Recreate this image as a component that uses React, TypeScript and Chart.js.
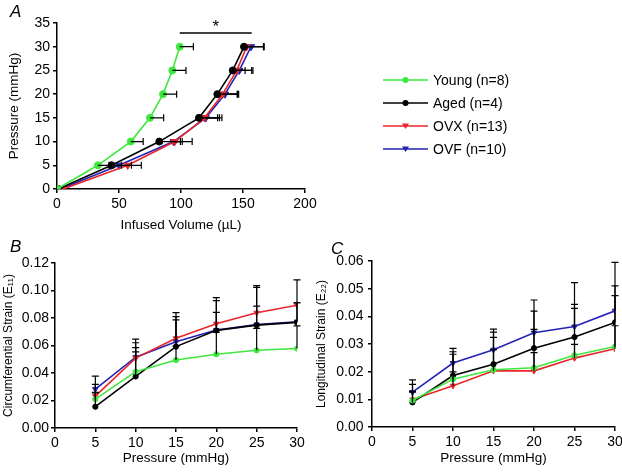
import React, { useEffect, useRef } from 'react';
import { Chart, registerables } from 'chart.js';

Chart.register(...registerables);

const FONT = '"Liberation Sans", Arial, Helvetica, sans-serif';

// ---------- data ----------
const GROUP_LABELS = ['Young (n=8)', 'Aged (n=4)', 'OVX (n=13)', 'OVF (n=10)'];
const GROUP_COLORS = ['#3de83d', '#000000', '#e8262b', '#2323b4'];
const GROUP_MARKERS = ['circle', 'circle', 'triangle', 'triangle'];

// Panel A: pressure (y) vs infused volume (x)
const PRESSURES_A = [0, 5, 10, 15, 20, 25, 30];
const YOUNG_VOL = [0, 33, 59.5, 75, 85.5, 93, 99];
const YOUNG_VOL_ERR = [0, 9, 10, 11, 11, 11, 11];
const AGED_VOL = [1, 44, 82.5, 114.5, 129.3, 141.7, 150.8];
const AGED_VOL_ERR = [0, 8, 17, 15, 16, 10, 16];
const OVX_VOL = [5, 57, 95, 119, 133.6, 145, 153];
const OVX_VOL_ERR = [0, 11, 14, 14, 12, 12, 14];
const OVF_VOL = [3, 50, 94, 120, 135.5, 147, 156.5];
const OVF_VOL_ERR = [0, 10, 7, 11, 11, 11, 10];
const A_X_TICKS = ['0', '50', '100', '150', '200'];
const A_Y_TICKS = ['0', '5', '10', '15', '20', '25', '30', '35'];
const SIG_RANGE = [99, 157];
const SIG_LEVEL = 32.9;

// Panel B: circumferential strain
const PRESSURES_BC = [5, 10, 15, 20, 25, 30];
const YOUNG_E11 = [0.021, 0.041, 0.0495, 0.0536, 0.0565, 0.0578];
const YOUNG_E11_ERR = [0.005, 0.0143, 0.01, 0.016, 0.016, 0.0165];
const AGED_E11 = [0.0155, 0.0375, 0.0592, 0.071, 0.0748, 0.0768];
const AGED_E11_ERR = [0.01, 0.021, 0.0194, 0.0131, 0.0139, 0.031];
const OVX_E11 = [0.0232, 0.0508, 0.0652, 0.0758, 0.0838, 0.0893];
const OVX_E11_ERR = [0.0086, 0.0112, 0.0187, 0.019, 0.0185, 0.0018];
const OVF_E11 = [0.0283, 0.0515, 0.0628, 0.0712, 0.0752, 0.0773];
const OVF_E11_ERR = [0.0095, 0.0132, 0.0182, 0.0214, 0.0283, 0.0138];
const B_Y_TICKS = ['0.00', '0.02', '0.04', '0.06', '0.08', '0.10', '0.12'];

// Panel C: longitudinal strain
const YOUNG_E22 = [0.0096, 0.0173, 0.0207, 0.0214, 0.0259, 0.0291];
const YOUNG_E22_ERR = [0.003, 0.009, 0.0117, 0.0055, 0.004, 0.0075];
const AGED_E22 = [0.0089, 0.0186, 0.0227, 0.0285, 0.0325, 0.0378];
const AGED_E22_ERR = [0.0065, 0.0086, 0.0116, 0.0134, 0.0118, 0.0132];
const OVX_E22 = [0.0099, 0.0149, 0.0203, 0.0203, 0.0249, 0.0283];
const OVX_E22_ERR = [0.003, 0.005, 0.0077, 0.015, 0.018, 0.0192];
const OVF_E22 = [0.0126, 0.0231, 0.0279, 0.0341, 0.0363, 0.042];
const OVF_E22_ERR = [0.0044, 0.0053, 0.0075, 0.0118, 0.0159, 0.0175];
const C_Y_TICKS = ['0.00', '0.01', '0.02', '0.03', '0.04', '0.05', '0.06'];

const BC_X_TICKS = ['0', '5', '10', '15', '20', '25', '30'];

// ---------- helpers ----------
function makeDataset(gi: number, xs: number[], ys: number[], err: number[], errAxis: 'x' | 'y', radius: number) {
  const tri = GROUP_MARKERS[gi] === 'triangle';
  return {
    label: GROUP_LABELS[gi],
    data: xs.map((x, i) => ({ x, y: ys[i] })),
    borderColor: GROUP_COLORS[gi],
    backgroundColor: GROUP_COLORS[gi],
    borderWidth: 1.6,
    pointStyle: GROUP_MARKERS[gi],
    pointRotation: tri ? 180 : 0,
    pointRadius: tri ? radius + 0.6 : radius,
    pointBorderWidth: 1,
    tension: 0,
    fill: false,
    errAxis,
    err,
  };
}

const errorBarPlugin = {
  id: 'errorBars',
  afterDatasetsDraw(chart: any) {
    const { ctx } = chart;
    const xs = chart.scales.x;
    const ys = chart.scales.y;
    ctx.save();
    ctx.strokeStyle = '#000';
    ctx.lineWidth = 1.2;
    const cap = 3.5;
    chart.data.datasets.forEach((ds: any) => {
      ds.data.forEach((pt: any, i: number) => {
        const e = ds.err[i];
        if (!e) return;
        ctx.beginPath();
        if (ds.errAxis === 'x') {
          const x0 = xs.getPixelForValue(pt.x);
          const x1 = xs.getPixelForValue(pt.x + e);
          const y = ys.getPixelForValue(pt.y);
          ctx.moveTo(x0, y);
          ctx.lineTo(x1, y);
          ctx.moveTo(x1, y - cap);
          ctx.lineTo(x1, y + cap);
        } else {
          const x = xs.getPixelForValue(pt.x);
          const y0 = ys.getPixelForValue(pt.y);
          const y1 = ys.getPixelForValue(pt.y + e);
          ctx.moveTo(x, y0);
          ctx.lineTo(x, y1);
          ctx.moveTo(x - cap, y1);
          ctx.lineTo(x + cap, y1);
        }
        ctx.stroke();
      });
    });
    ctx.restore();
  },
};

function axisCommon(tickLabels: string[]) {
  return {
    grid: { display: true, drawOnChartArea: false, drawTicks: true, tickLength: 4, color: '#000', lineWidth: 1.5 },
    border: { display: true, color: '#000', width: 1.5 },
    ticks: {
      color: '#000',
      font: { family: FONT, size: 14 },
      autoSkip: false,
      maxRotation: 0,
      callback: (_v: any, i: number) => tickLabels[i],
    },
  };
}

function fixX(height: number) {
  return (s: any) => {
    s.height = height;
    s.paddingLeft = 0;
    s.paddingRight = 0;
  };
}
function fixY(width: number) {
  return (s: any) => {
    s.width = width;
    s.paddingTop = 0;
    s.paddingBottom = 0;
  };
}

// ---------- chart configs ----------
function configA() {
  const legendPlugin = {
    id: 'legendA',
    afterDraw(chart: any) {
      const { ctx } = chart;
      const xs = chart.scales.x;
      const ys = chart.scales.y;
      ctx.save();
      // significance bar and asterisk
      const sy = ys.getPixelForValue(SIG_LEVEL);
      ctx.strokeStyle = '#000';
      ctx.lineWidth = 1.5;
      ctx.beginPath();
      ctx.moveTo(xs.getPixelForValue(SIG_RANGE[0]), sy);
      ctx.lineTo(xs.getPixelForValue(SIG_RANGE[1]), sy);
      ctx.stroke();
      ctx.fillStyle = '#000';
      ctx.font = `17px ${FONT}`;
      ctx.textAlign = 'center';
      ctx.textBaseline = 'alphabetic';
      ctx.fillText('*', xs.getPixelForValue((SIG_RANGE[0] + SIG_RANGE[1]) / 2), sy - 1);
      // legend
      const rows = [80, 103, 126, 149];
      ctx.font = `14px ${FONT}`;
      ctx.textAlign = 'left';
      ctx.textBaseline = 'middle';
      chart.data.datasets.forEach((ds: any, i: number) => {
        const y = rows[i];
        ctx.strokeStyle = ds.borderColor;
        ctx.lineWidth = 1.6;
        ctx.beginPath();
        ctx.moveTo(383, y);
        ctx.lineTo(428, y);
        ctx.stroke();
        ctx.fillStyle = ds.borderColor;
        ctx.beginPath();
        if (ds.pointStyle === 'circle') {
          ctx.arc(405.5, y, 3, 0, Math.PI * 2);
        } else {
          ctx.moveTo(402, y - 2.5);
          ctx.lineTo(409, y - 2.5);
          ctx.lineTo(405.5, y + 3);
          ctx.closePath();
        }
        ctx.fill();
        ctx.fillStyle = '#000';
        ctx.fillText(ds.label, 433, y + 1);
      });
      ctx.restore();
    },
  };
  return {
    type: 'line',
    data: {
      datasets: [
        makeDataset(0, YOUNG_VOL, PRESSURES_A, YOUNG_VOL_ERR, 'x', 3.5),
        makeDataset(1, AGED_VOL, PRESSURES_A, AGED_VOL_ERR, 'x', 3.5),
        makeDataset(2, OVX_VOL, PRESSURES_A, OVX_VOL_ERR, 'x', 3.5),
        makeDataset(3, OVF_VOL, PRESSURES_A, OVF_VOL_ERR, 'x', 3.5),
      ],
    },
    options: {
      animation: false,
      responsive: false,
      events: [],
      layout: { autoPadding: false, padding: { left: 0, top: 23, right: 317, bottom: 0 } },
      plugins: { legend: { display: false }, tooltip: { enabled: false } },
      scales: {
        x: {
          type: 'linear',
          min: 0,
          max: 200,
          ...axisCommon(A_X_TICKS),
          ticks: { ...axisCommon(A_X_TICKS).ticks, stepSize: 50 },
          title: { display: true, text: 'Infused Volume (µL)', color: '#000', font: { family: FONT, size: 13.5 }, padding: { top: 0, bottom: 2 } },
          afterFit: fixX(46),
        },
        y: {
          type: 'linear',
          min: 0,
          max: 35,
          ...axisCommon(A_Y_TICKS),
          ticks: { ...axisCommon(A_Y_TICKS).ticks, stepSize: 5 },
          title: { display: true, text: 'Pressure (mmHg)', color: '#000', font: { family: FONT, size: 13.5 }, padding: { top: 6, bottom: 0 } },
          afterFit: fixY(57),
        },
      },
    },
    plugins: [errorBarPlugin, legendPlugin],
  };
}

function configStrain(
  series: number[][],
  errs: number[][],
  yMax: number,
  yStep: number,
  yTicks: string[],
  yTitle: string,
  yWidth: number,
  xHeight: number,
  padding: any,
  yTitlePad: number,
  yTickPad: number,
) {
  return {
    type: 'line',
    data: {
      datasets: series.map((s, gi) => makeDataset(gi, PRESSURES_BC, s, errs[gi], 'y', 2.6)),
    },
    options: {
      animation: false,
      responsive: false,
      events: [],
      layout: { autoPadding: false, padding },
      plugins: { legend: { display: false }, tooltip: { enabled: false } },
      scales: {
        x: {
          type: 'linear',
          min: 0,
          max: 30,
          ...axisCommon(BC_X_TICKS),
          ticks: { ...axisCommon(BC_X_TICKS).ticks, stepSize: 5 },
          title: { display: true, text: 'Pressure (mmHg)', color: '#000', font: { family: FONT, size: 13.5 }, padding: { top: 0, bottom: 6 } },
          afterFit: fixX(xHeight),
        },
        y: {
          type: 'linear',
          min: 0,
          max: yMax,
          ...axisCommon(yTicks),
          ticks: { ...axisCommon(yTicks).ticks, stepSize: yStep, padding: yTickPad },
          title: { display: true, text: yTitle, color: '#000', font: { family: FONT, size: 12 }, padding: { top: yTitlePad, bottom: 0 } },
          afterFit: fixY(yWidth),
        },
      },
    },
    plugins: [errorBarPlugin],
  };
}

function configB() {
  return configStrain(
    [YOUNG_E11, AGED_E11, OVX_E11, OVF_E11],
    [YOUNG_E11_ERR, AGED_E11_ERR, OVX_E11_ERR, OVF_E11_ERR],
    0.12,
    0.02,
    B_Y_TICKS,
    'Circumferential Strain (E₁₁)',
    55,
    44,
    { left: 0, top: 28, right: 13, bottom: 0 },
    1,
    2,
  );
}

function configC() {
  return configStrain(
    [YOUNG_E22, AGED_E22, OVX_E22, OVF_E22],
    [YOUNG_E22_ERR, AGED_E22_ERR, OVX_E22_ERR, OVF_E22_ERR],
    0.06,
    0.01,
    C_Y_TICKS,
    'Longitudinal Strain (E₂₂)',
    62,
    45,
    { left: 0, top: 26, right: 7, bottom: 0 },
    4.5,
    4.5,
  );
}

function ChartCanvas({ makeConfig, left, top, width, height }: any) {
  const ref = useRef<HTMLCanvasElement | null>(null);
  useEffect(() => {
    const chart = new Chart(ref.current as HTMLCanvasElement, makeConfig() as any);
    return () => chart.destroy();
  }, []);
  return (
    <canvas
      ref={ref}
      width={width}
      height={height}
      style={{ position: 'absolute', left, top, width, height }}
    />
  );
}

const panelLabel: React.CSSProperties = {
  position: 'absolute',
  fontFamily: FONT,
  fontStyle: 'italic',
  fontSize: 17,
  lineHeight: 'normal',
  color: '#000',
  margin: 0,
};

export default function App() {
  return (
    <div
      style={{
        position: 'absolute',
        left: 0,
        top: 0,
        width: 622,
        height: 472,
        overflow: 'hidden',
        background: '#fff',
      }}
    >
      <ChartCanvas makeConfig={configA} left={0} top={0} width={622} height={235} />
      <ChartCanvas makeConfig={configB} left={0} top={235} width={310} height={237} />
      <ChartCanvas makeConfig={configC} left={310} top={235} width={312} height={237} />
      <span style={{ ...panelLabel, left: 10, top: 2 }}>A</span>
      <span style={{ ...panelLabel, left: 10, top: 237 }}>B</span>
      <span style={{ ...panelLabel, left: 331, top: 239 }}>C</span>
    </div>
  );
}
